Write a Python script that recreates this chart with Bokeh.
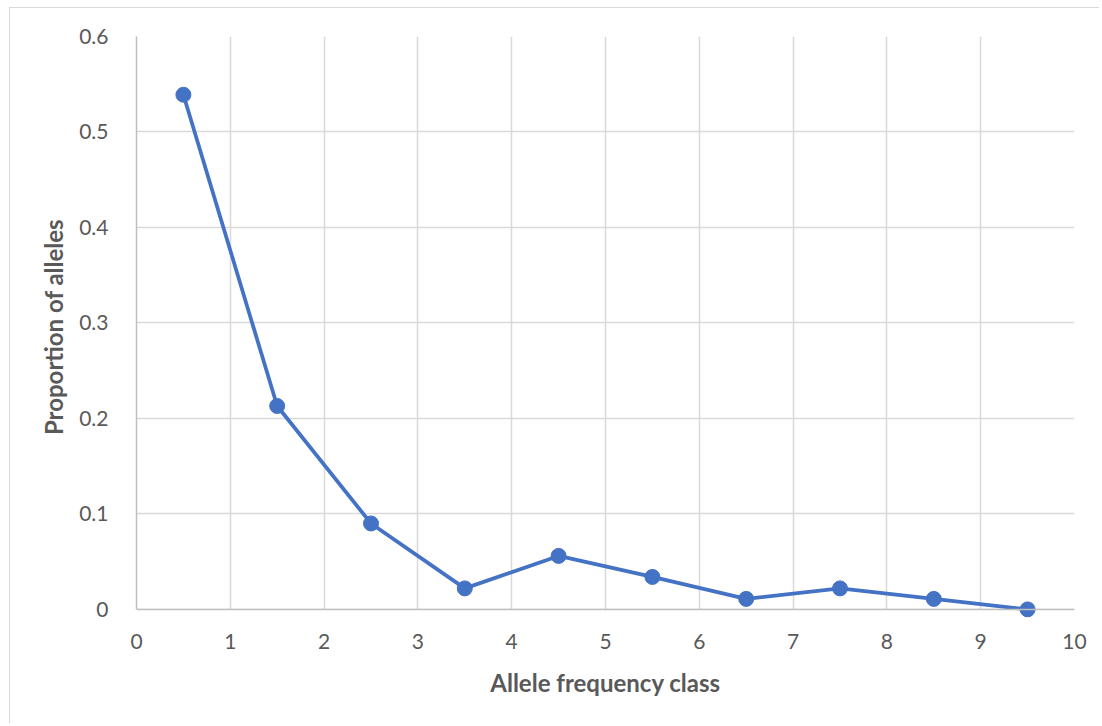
from bokeh.plotting import figure
from bokeh.models import FixedTicker, Range1d, ColumnDataSource, Span
from bokeh.embed import file_html
from bokeh.resources import INLINE

# Data
freq_class = [0.5, 1.5, 2.5, 3.5, 4.5, 5.5, 6.5, 7.5, 8.5, 9.5]
proportion = [0.539, 0.213, 0.090, 0.022, 0.056, 0.034, 0.011, 0.022, 0.011, 0.000]
x_ticks = [0, 1, 2, 3, 4, 5, 6, 7, 8, 9, 10]
y_ticks = [0, 0.1, 0.2, 0.3, 0.4, 0.5, 0.6]
x_title = "Allele frequency class"
y_title = "Proportion of alleles"

TEXT = "#595959"
LINE = "#4472C4"
GRID = "#d9d9d9"
AXIS = "#bfbfbf"
FONT = "Lato"

Y_MIN, Y_MAX = 0.0, 0.6
PAD = 0.0085  # small room below zero so the last marker is not clipped

src = ColumnDataSource(dict(x=freq_class, y=proportion))

p = figure(width=1090, height=716, output_backend="svg", toolbar_location=None,
           x_range=Range1d(0, 10), y_range=Range1d(Y_MIN - PAD, Y_MAX),
           min_border_left=126, min_border_top=28, min_border_right=26, min_border_bottom=107)
p.margin = (7, 0, 0, 9)
p.outline_line_color = None
p.background_fill_color = "white"
p.border_fill_color = "white"
p.styles = {"border-top": "1px solid #d9d9d9", "border-left": "1px solid #d9d9d9"}

# white band covering grid lines below zero
p.quad(left=[x_ticks[0]], right=[x_ticks[-1]], bottom=[Y_MIN - PAD], top=[Y_MIN],
       fill_color="white", line_color=None)

p.line("x", "y", source=src, line_color=LINE, line_width=3.75)
p.scatter("x", "y", source=src, size=15, fill_color=LINE, line_color=LINE)

for ax in (p.xaxis[0], p.yaxis[0]):
    ax.major_tick_line_color = None
    ax.minor_tick_line_color = None
    ax.axis_line_color = AXIS
    ax.axis_line_width = 1.5
    ax.major_label_text_color = TEXT
    ax.major_label_text_font = FONT
    ax.major_label_text_font_size = "21px"
    ax.axis_label_text_color = TEXT
    ax.axis_label_text_font = FONT
    ax.axis_label_text_font_size = "24px"
    ax.axis_label_text_font_style = "bold"

p.xaxis.axis_line_color = None
p.yaxis.bounds = (Y_MIN, Y_MAX)
p.add_layout(Span(location=Y_MIN, dimension="width", line_color=AXIS, line_width=1.5, level="glyph"))

p.xaxis.ticker = FixedTicker(ticks=x_ticks)
p.yaxis.ticker = FixedTicker(ticks=y_ticks)
p.yaxis.major_label_overrides = {0: "0"}
p.xaxis.axis_label = x_title
p.yaxis.axis_label = y_title
p.xaxis.major_label_standoff = 10
p.yaxis.major_label_standoff = 22
p.xaxis.axis_label_standoff = 16
p.yaxis.axis_label_standoff = 8

p.xgrid.grid_line_color = GRID
p.ygrid.grid_line_color = GRID
p.xgrid.grid_line_width = 1.5
p.ygrid.grid_line_width = 1.5

open("out.html", "w").write(file_html(p, INLINE))
